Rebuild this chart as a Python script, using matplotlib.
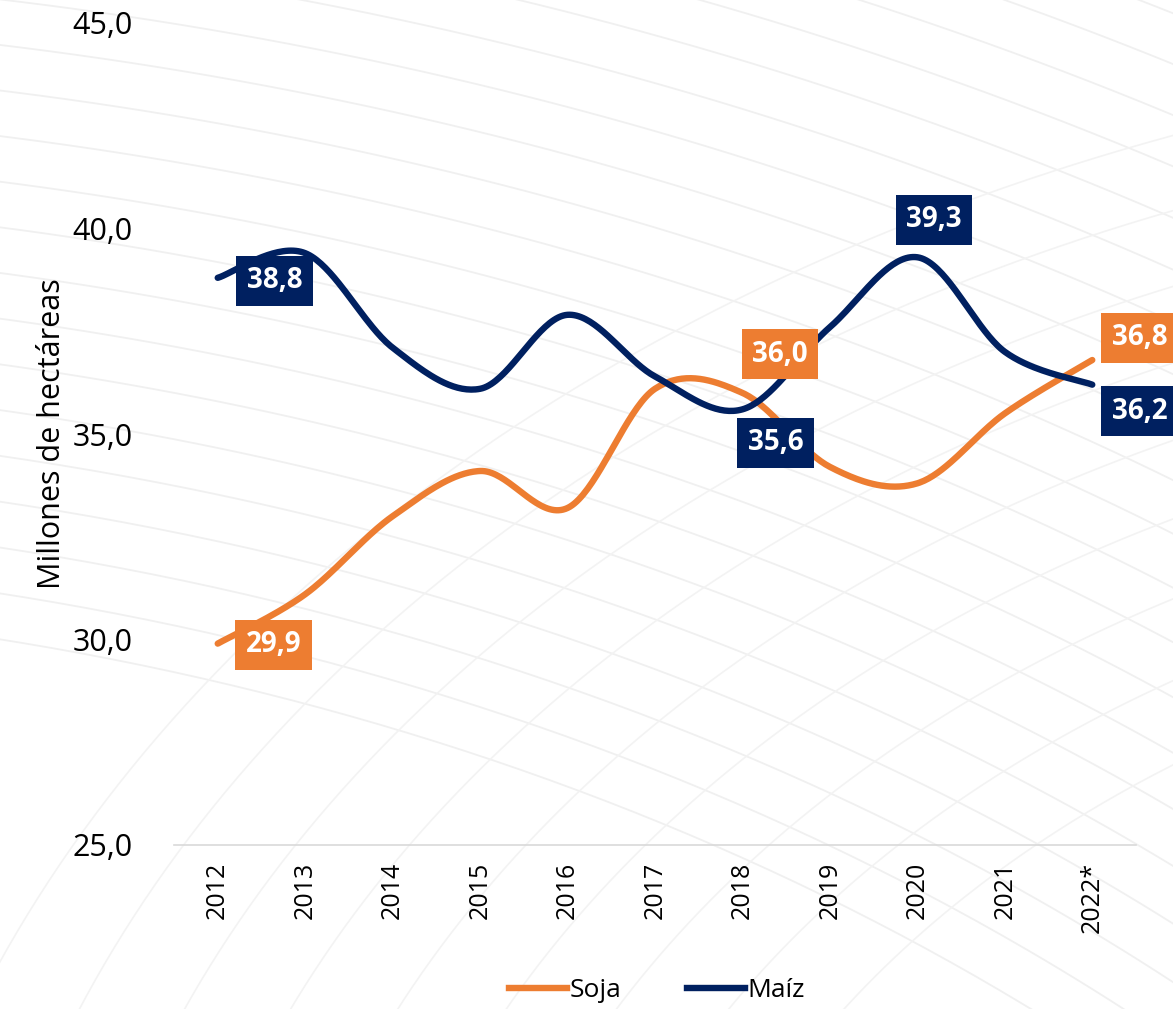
import numpy as np
import matplotlib
matplotlib.use("Agg")
import matplotlib.pyplot as plt
from matplotlib.lines import Line2D

years = ["2012", "2013", "2014", "2015", "2016", "2017", "2018", "2019", "2020", "2021", "2022*"]
soja = [29.9, 31.1, 33.0, 34.1, 33.2, 36.1, 36.0, 34.2, 33.8, 35.5, 36.8]
maiz = [38.8, 39.4, 37.1, 36.1, 37.9, 36.4, 35.6, 37.6, 39.3, 37.0, 36.2]
soja_labeled = [0, 6, 10]
maiz_labeled = [0, 6, 8, 10]
yticks = [25.0, 30.0, 35.0, 40.0, 45.0]

ORANGE = "#ED7D31"
NAVY = "#002060"

def smooth(xs, ys, n=40):
    xs = np.asarray(xs, float); ys = np.asarray(ys, float)
    P = np.column_stack([xs, ys])
    out = []
    for i in range(len(P) - 1):
        p0 = P[i - 1] if i > 0 else P[i]
        p1 = P[i]; p2 = P[i + 1]
        p3 = P[i + 2] if i + 2 < len(P) else P[i + 1]
        c1 = p1 + (p2 - p0) / 6.0
        c2 = p2 - (p3 - p1) / 6.0
        t = np.linspace(0, 1, n)[:, None]
        seg = (1 - t) ** 3 * p1 + 3 * (1 - t) ** 2 * t * c1 + 3 * (1 - t) * t ** 2 * c2 + t ** 3 * p2
        out.append(seg if i == 0 else seg[1:])
    out = np.vstack(out)
    return out[:, 0], out[:, 1]

plt.rcParams['font.family'] = ['Open Sans', 'DejaVu Sans']

fig = plt.figure(figsize=(11.73, 10.09), dpi=100)

# decorative background
bg = fig.add_axes([0, 0, 1, 1], zorder=-10)
bg.set_xlim(0, 1173); bg.set_ylim(1009, 0); bg.axis('off')
th = np.linspace(0, 2 * np.pi, 1500)
for r in np.arange(1900, 2900, 45):
    cx, cy = -500, 2500
    bg.plot(cx + r * 1.3 * np.cos(th), cy + r * np.sin(th), color="#f0f0f0", lw=1.3)
for r in np.arange(900, 1500, 70):
    cx, cy = 1900, 1500
    bg.plot(cx + r * 1.4 * np.cos(th), cy + r * np.sin(th), color="#f3f3f3", lw=1.2)

ax = fig.add_axes([174 / 1173, 1 - 845 / 1009, (1136 - 174) / 1173, (845 - 23) / 1009])
ax.patch.set_alpha(0)
x = np.arange(len(years))

sx, sy = smooth(x, soja)
mx, my = smooth(x, maiz)
ax.plot(sx, sy, color=ORANGE, lw=4.6, solid_capstyle='round', zorder=3)
ax.plot(mx, my, color=NAVY, lw=4.6, solid_capstyle='round', zorder=3)

ax.set_xlim(-0.5, len(years) - 0.5)
ax.set_ylim(25, 45)
ax.set_yticks(yticks)
ax.set_yticklabels([f"{v:.1f}".replace('.', ',') for v in yticks], fontsize=22)
ax.set_xticks(x)
ax.set_xticklabels(years, rotation=90, fontsize=18)
ax.tick_params(axis='x', length=0, pad=12)
ax.tick_params(axis='y', length=0, pad=30)
for s in ['top', 'right', 'left']:
    ax.spines[s].set_visible(False)
ax.spines['bottom'].set_color('#d9d9d9')
ax.spines['bottom'].set_linewidth(1.2)
ax.set_ylabel("Millones de hectáreas", fontsize=22, labelpad=4)

def lab(i, vals, color, dx, dy):
    ax.annotate(f"{vals[i]:.1f}".replace('.', ','), (x[i], vals[i]), xytext=(dx, dy),
                textcoords='offset points', ha='center', va='center', fontsize=20,
                fontweight='bold', color='white', zorder=5, annotation_clip=False,
                bbox=dict(boxstyle='square,pad=0.38', fc=color, ec='none'))

offs_s = {0: (40, -1), 6: (27, 28), 10: (34, 16)}
offs_m = {0: (41, -2), 6: (24, -24), 8: (12, 27), 10: (34, -19)}
for i in soja_labeled:
    lab(i, soja, ORANGE, *offs_s[i])
for i in maiz_labeled:
    lab(i, maiz, NAVY, *offs_m[i])

handles = [Line2D([], [], color=ORANGE, lw=4.6), Line2D([], [], color=NAVY, lw=4.6)]
fig.legend(handles, ["Soja", "Maíz"], loc='lower center', bbox_to_anchor=(0.56, -0.018),
           ncol=2, frameon=False, fontsize=19, handlelength=2.2, handletextpad=0.1,
           columnspacing=2.5)

fig.savefig("out.png", dpi=100)
